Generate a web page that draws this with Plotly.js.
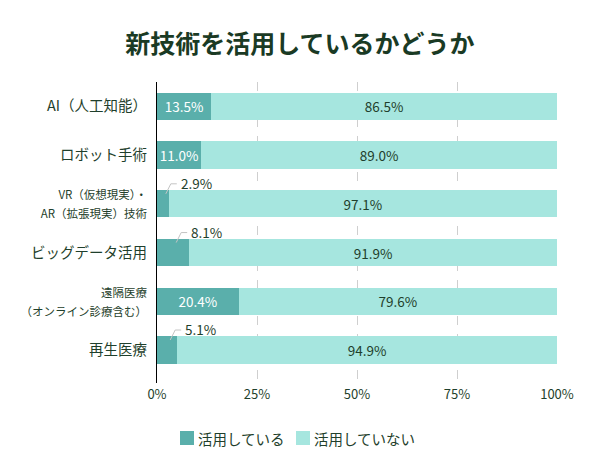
<!DOCTYPE html>
<html><head><meta charset="utf-8">
<script src="https://cdn.plot.ly/plotly-3.0.1.min.js"></script>
<style>body{margin:0;background:#fff}#c{width:600px;height:473px}</style>
</head><body><div id="c"></div>
<script>
const categories = ["AI（人工知能）","ロボット手術","VR（仮想現実）・AR（拡張現実）技術","ビッグデータ活用","遠隔医療（オンライン診療含む）","再生医療"];
const tickLabels = ["AI（人工知能）","ロボット手術","<span style=\"font-size:11.5px\">VR（仮想現実）・<br>AR（拡張現実）技術</span>","ビッグデータ活用","<span style=\"font-size:11.5px\">遠隔医療<br>（オンライン診療含む）</span>","再生医療"];
const using = [13.5, 11.0, 2.9, 8.1, 20.4, 5.1];
const notUsing = [86.5, 89.0, 97.1, 91.9, 79.6, 94.9];
const seriesNames = ["活用している","活用していない"];
const seriesColors = ["#5aafab","#a6e6df"];
const xTicks = [0, 25, 50, 75, 100];
const insideThreshold = 10;

const font = "'Noto Sans CJK JP', 'Noto Sans', sans-serif";
const txt = "#1f3f2c";
const fmt = v => v.toFixed(1) + "%";

const traces = [
  {type:"bar", orientation:"h", name:seriesNames[0], y:categories, x:using,
   marker:{color:seriesColors[0]},
   text: using.map(v => v >= insideThreshold ? fmt(v) : ""),
   textposition:"inside", insidetextanchor:"middle", textangle:0, constraintext:"none",
   textfont:{color:"#ffffff", size:13.5, family:font}, hoverinfo:"none", showlegend:false},
  {type:"bar", orientation:"h", name:seriesNames[1], y:categories, x:notUsing,
   marker:{color:seriesColors[1]},
   text: notUsing.map(fmt),
   textposition:"inside", insidetextanchor:"middle", textangle:0,
   textfont:{color:txt, size:13.5, family:font}, hoverinfo:"none", showlegend:false}
];

const annotations = [];
const shapes = [];
using.forEach((v,i) => {
  if (v < insideThreshold) {
    const ax = v / 2;
    shapes.push({type:"path", xref:"x", yref:"y", xsizemode:"pixel", ysizemode:"pixel",
      xanchor: ax, yanchor: i, path:"M 3,10 L 8,20 L 14,20",
      line:{color:"#c4c4c4", width:1}});
    annotations.push({x: ax, y: i, xref:"x", yref:"y", text: fmt(v), showarrow:false,
      xanchor:"left", yanchor:"middle", xshift:16, yshift:21,
      font:{size:13.5, color:txt, family:font}});
  }
});

// legend drawn as swatches + labels
const legendX = [180, 296];
seriesNames.forEach((n,k) => {
  shapes.push({type:"rect", xref:"paper", yref:"paper", xsizemode:"pixel", ysizemode:"pixel",
    xanchor: (legendX[k]-157)/400, yanchor: -(438-383)/301, x0:0, x1:14, y0:-7, y1:7,
    fillcolor: seriesColors[k], line:{width:0}});
  annotations.push({xref:"paper", yref:"paper", x:(legendX[k]-157)/400, y:-(438-383)/301,
    xshift:16, text:n, showarrow:false, xanchor:"left", yanchor:"middle",
    font:{size:14.5, color:txt, family:font}});
});

const layout = {
  width:600, height:473,
  margin:{l:157, r:43, t:82, b:90},
  barmode:"stack", bargap:0.44,
  paper_bgcolor:"#fff", plot_bgcolor:"#fff",
  font:{family:font, color:txt, size:13},
  title:{text:"<b>新技術を活用しているかどうか</b>", x:0.5, xref:"container", xanchor:"center",
         y:1-44/473, yref:"container", yanchor:"middle",
         font:{size:25, color:"#1a3a24", family:font}},
  xaxis:{range:[0,100], tickvals:xTicks, ticktext:xTicks.map(t => t + "%"),
         showgrid:true, gridcolor:"#cfcfcf", griddash:"dash", gridwidth:1,
         zeroline:false, showline:false, ticks:"", ticklabelstandoff:2,
         tickfont:{size:13, color:txt, family:font}, fixedrange:true},
  yaxis:{type:"category", autorange:"reversed", tickvals:categories, ticktext:tickLabels,
         showline:true, linecolor:"#000", linewidth:1, ticks:"", ticklabelstandoff:6,
         tickfont:{size:14.5, color:txt, family:font}, showgrid:false},
  annotations: annotations,
  shapes: shapes,
  showlegend:false
};
Plotly.newPlot("c", traces, layout, {displayModeBar:false, staticPlot:true});
</script></body></html>
